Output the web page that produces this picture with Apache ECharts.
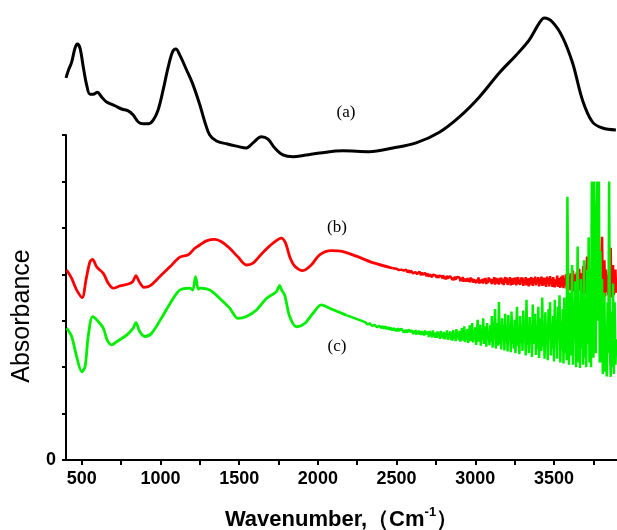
<!DOCTYPE html>
<html>
<head>
<meta charset="utf-8">
<script src="https://cdn.jsdelivr.net/npm/echarts@6/dist/echarts.min.js"></script>
<style>
html,body{margin:0;padding:0;background:#fff;}
#chart{width:617px;height:530px;}
</style>
</head>
<body>
<div id="chart"></div>
<script>
// ---------- data ----------
const xTickValues = [500, 750, 1000, 1250, 1500, 1750, 2000, 2250, 2500, 2750, 3000, 3250, 3500, 3750];
const xLabelValues = [500, 1000, 1500, 2000, 2500, 3000, 3500];
const yLabelValues = [0];

// (a) black spectrum
const blackWn = [400, 415, 436, 457, 472, 489, 510, 531, 552, 573, 599, 626, 658, 711, 753, 795, 827, 859, 890, 922, 954, 985, 1017, 1049, 1077, 1098, 1123, 1166, 1207, 1250, 1282, 1313, 1356, 1419, 1483, 1546, 1588, 1641, 1683, 1726, 1778, 1842, 1927, 2011, 2159, 2328, 2476, 2624, 2772, 2899, 3026, 3153, 3259, 3343, 3406, 3438, 3491, 3554, 3618, 3681, 3744, 3808, 3893];
const blackAbs = [8.23, 8.39, 8.57, 8.87, 8.96, 8.87, 8.46, 8.08, 7.88, 7.88, 7.92, 7.82, 7.71, 7.63, 7.56, 7.52, 7.43, 7.28, 7.24, 7.24, 7.32, 7.54, 7.97, 8.46, 8.79, 8.85, 8.72, 8.40, 8.08, 7.65, 7.28, 7.00, 6.87, 6.81, 6.76, 6.72, 6.83, 6.96, 6.91, 6.72, 6.57, 6.53, 6.57, 6.61, 6.66, 6.64, 6.72, 6.83, 7.06, 7.39, 7.82, 8.34, 8.72, 9.05, 9.41, 9.52, 9.43, 9.11, 8.55, 7.75, 7.28, 7.15, 7.11];

// (b) red spectrum: smooth part
const redWn = [404, 436, 468, 503, 527, 552, 569, 595, 637, 668, 700, 743, 795, 823, 844, 865, 895, 933, 996, 1060, 1123, 1176, 1218, 1250, 1292, 1345, 1388, 1440, 1493, 1546, 1588, 1651, 1715, 1768, 1795, 1821, 1852, 1905, 1958, 2011, 2085, 2159, 2244, 2349, 2476];
const redAbs = [4.09, 3.91, 3.66, 3.50, 3.88, 4.27, 4.32, 4.16, 4.02, 3.81, 3.70, 3.75, 3.79, 3.84, 3.97, 3.84, 3.72, 3.75, 3.95, 4.16, 4.37, 4.42, 4.56, 4.63, 4.72, 4.75, 4.70, 4.56, 4.37, 4.20, 4.24, 4.47, 4.67, 4.78, 4.67, 4.38, 4.18, 4.08, 4.20, 4.42, 4.51, 4.49, 4.39, 4.25, 4.13];
// (b) red spectrum: noisy part, one reading every 5 cm-1 from 2500
const redNoiseStart = 2500, redNoiseStep = 5;
const redNoise = [
  4.12,4.08,4.13,4.09,4.07,4.12,4.10,4.06,4.11,4.08,
  4.09,4.05,4.10,4.06,4.04,4.09,4.07,4.03,4.08,4.05,
  4.07,4.02,4.06,4.01,4.05,4.07,4.00,4.04,4.02,4.06,
  4.03,3.98,4.04,3.99,4.02,3.97,4.03,4.00,3.96,4.02,
  4.01,3.95,4.00,3.96,4.02,3.94,3.99,4.01,3.95,3.98,
  3.99,3.93,3.98,3.92,3.97,3.99,3.93,3.96,3.91,3.98,
  3.96,3.90,3.95,3.89,3.97,3.91,3.94,3.88,3.96,3.92,
  3.94,3.88,3.93,3.87,3.95,3.89,3.86,3.94,3.90,3.92,
  3.93,3.85,3.91,3.86,3.94,3.84,3.90,3.87,3.92,3.85,
  3.92,3.84,3.90,3.83,3.93,3.86,3.91,3.82,3.89,3.85,
  3.92,3.81,3.89,3.83,3.93,3.80,3.88,3.91,3.82,3.90,
  3.80,3.91,3.85,3.92,3.79,3.88,3.81,3.93,3.84,3.90,
  3.93,3.79,3.90,3.82,3.94,3.78,3.87,3.92,3.80,3.89,
  3.78,3.92,3.84,3.93,3.79,3.90,3.77,3.88,3.94,3.81,
  3.93,3.77,3.89,3.81,3.94,3.76,3.91,3.83,3.78,3.92,
  3.80,3.93,3.76,3.89,3.94,3.79,3.87,3.77,3.93,3.84,
  3.93,3.75,3.88,3.79,3.94,3.76,3.91,3.82,3.74,3.92,
  3.78,3.94,3.85,3.75,3.92,3.80,3.95,3.76,3.89,3.83,
  3.94,3.74,3.90,3.79,3.95,3.75,3.88,3.93,3.76,3.91,
  3.73,3.95,3.82,3.92,3.74,3.96,3.80,3.90,3.73,3.94,
  3.96,3.72,3.89,3.77,3.97,3.73,3.92,3.80,3.71,3.95,
  3.74,3.98,3.70,3.92,3.78,4.00,3.69,4.15,3.72,3.96,
  3.66,4.02,3.75,3.62,4.08,3.80,3.64,4.00,3.70,4.05,
  3.62,3.95,4.12,3.65,3.85,4.02,3.60,4.18,3.70,3.98,
  3.58,4.05,4.38,3.55,3.95,4.10,3.60,3.52,4.02,3.75,
  4.20,3.55,3.90,4.12,3.50,3.70,4.15,3.60,4.05,3.52,
  4.25,4.81,3.55,3.95,4.30,3.52,4.10,3.62,3.98,3.55,
  4.05,3.60,4.57,3.50,3.95,4.20,3.55,3.85,4.10,3.60
];

// (c) green spectrum: smooth part
const greenWn = [404, 436, 468, 500, 521, 541, 569, 595, 637, 662, 690, 722, 785, 827, 844, 869, 901, 944, 1017, 1081, 1123, 1187, 1205, 1223, 1240, 1250, 1313, 1377, 1440, 1493, 1546, 1610, 1673, 1735, 1757, 1770, 1789, 1821, 1863, 1916, 1969, 2022, 2074, 2180];
const greenAbs = [2.84, 2.66, 2.22, 1.90, 2.01, 2.66, 3.09, 3.02, 2.84, 2.58, 2.48, 2.55, 2.69, 2.84, 2.96, 2.76, 2.66, 2.73, 3.12, 3.48, 3.66, 3.70, 3.66, 3.95, 3.68, 3.70, 3.66, 3.48, 3.27, 3.05, 3.09, 3.23, 3.48, 3.62, 3.76, 3.66, 3.55, 3.09, 2.87, 2.94, 3.16, 3.34, 3.27, 3.12];
// (c) green spectrum: noisy part, one reading every 5 cm-1 from 2300
const greenNoiseStart = 2300, greenNoiseStep = 5;
const greenNoise = [
  2.97,2.93,2.96,2.92,2.95,2.91,2.94,2.90,2.93,2.89,
  2.92,2.88,2.91,2.87,2.92,2.86,2.90,2.87,2.89,2.85,
  2.88,2.84,2.89,2.83,2.87,2.84,2.88,2.82,2.86,2.83,
  2.86,2.80,2.85,2.81,2.86,2.79,2.84,2.80,2.85,2.78,
  2.83,2.77,2.84,2.78,2.82,2.76,2.83,2.79,2.81,2.75,
  2.80,2.74,2.81,2.75,2.79,2.73,2.81,2.76,2.78,2.72,
  2.79,2.71,2.78,2.73,2.80,2.70,2.77,2.72,2.79,2.70,
  2.77,2.69,2.78,2.70,2.76,2.68,2.79,2.71,2.75,2.67,
  2.76,2.65,2.78,2.68,2.74,2.64,2.79,2.67,2.75,2.63,
  2.74,2.63,2.77,2.66,2.72,2.61,2.78,2.65,2.73,2.62,
  2.76,2.60,2.73,2.64,2.79,2.59,2.71,2.65,2.77,2.58,
  2.75,2.57,2.80,2.62,2.70,2.56,2.82,2.63,2.74,2.58,
  2.78,2.55,2.71,2.84,2.57,2.69,2.88,2.54,2.76,2.60,
  2.82,2.52,2.74,2.90,2.56,2.68,2.95,2.53,2.79,2.58,
  2.86,2.48,2.75,3.02,2.55,2.70,2.92,2.46,2.80,2.58,
  3.05,2.50,2.72,2.88,2.44,2.95,2.60,2.78,2.47,2.90,
  2.55,3.10,2.42,2.85,2.68,3.25,2.40,2.75,2.95,2.46,
  3.40,2.50,2.82,2.38,3.05,2.62,2.90,2.36,3.15,2.55,
  2.80,2.34,3.12,2.58,2.92,2.32,3.20,2.50,2.75,2.40,
  3.02,2.30,2.85,3.30,2.45,2.70,2.28,3.10,2.52,2.88,
  2.35,3.22,2.60,2.95,2.25,3.45,2.48,2.80,2.30,3.08,
  2.55,2.90,2.22,3.35,2.50,2.75,3.15,2.26,2.85,2.40,
  3.30,2.20,2.70,3.05,2.35,3.50,2.45,2.92,2.18,3.18,
  2.50,2.85,2.15,3.25,2.62,3.40,2.25,2.95,2.40,3.10,
  2.12,3.45,2.55,2.90,2.18,3.30,2.68,3.55,2.10,2.95,
  2.40,3.25,2.08,3.50,2.30,3.10,2.15,5.67,3.35,2.05,
  3.60,2.25,2.90,4.20,2.05,3.30,2.60,3.85,2.00,3.10,
  4.60,2.10,3.40,1.98,3.90,2.40,3.60,2.05,4.30,2.20,
  3.50,2.00,4.10,2.50,4.80,2.10,3.70,2.00,6.00,4.80,
  2.20,6.00,4.50,2.30,4.80,6.00,3.00,6.00,2.10,4.50,
  2.10,3.90,1.85,3.00,3.60,1.90,2.80,1.80,3.40,2.30,
  6.00,2.40,1.79,3.20,2.00,3.80,1.85,3.40,2.05,2.60
];

// ---------- build series data ----------
function pairs(xs, ys) { return xs.map((x, i) => [x, ys[i]]); }
function steps(start, step, ys) { return ys.map((y, i) => [start + i * step, y]); }

const blackData = pairs(blackWn, blackAbs);
const redSmooth = pairs(redWn, redAbs);
const redNoisy = [redSmooth[redSmooth.length - 1]].concat(steps(redNoiseStart, redNoiseStep, redNoise));
const greenSmooth = pairs(greenWn, greenAbs);
const greenNoisy = [greenSmooth[greenSmooth.length - 1]].concat(steps(greenNoiseStart, greenNoiseStep, greenNoise));

const chart = echarts.init(document.getElementById('chart'), null, {renderer: 'canvas'});
const sans = '"Liberation Sans", Arial, sans-serif';
const serif = '"Liberation Serif", "Times New Roman", serif';

const option = {
  animation: false,
  backgroundColor: '#fff',
  grid: {left: 66, right: 0, top: 135, bottom: 70, outerBoundsMode: 'none', containLabel: false},
  xAxis: {
    type: 'value', min: 400, max: 3900,
    axisLine: {show: true, lineStyle: {color: '#000', width: 2}},
    axisTick: {show: true, customValues: xTickValues, length: 5, lineStyle: {color: '#000', width: 2}},
    axisLabel: {customValues: xLabelValues, formatter: v => String(v), color: '#000', fontFamily: sans, fontWeight: 'bold', fontSize: 18, margin: 10},
    splitLine: {show: false},
    name: '{t|Wavenumber,（Cm}{s|-1}{t|）}',
    nameLocation: 'middle',
    nameGap: 46,
    nameTextStyle: {
      rich: {
        t: {fontFamily: sans, fontWeight: 'bold', fontSize: 22, color: '#000', verticalAlign: 'bottom'},
        s: {fontFamily: sans, fontWeight: 'bold', fontSize: 13, color: '#000', verticalAlign: 'top', padding: [0, 0, 12, 0]}
      }
    }
  },
  yAxis: {
    type: 'value', min: 0, max: 7, interval: 1,
    axisLine: {show: true, lineStyle: {color: '#000', width: 2}},
    axisTick: {show: true, length: 4, lineStyle: {color: '#000', width: 2}},
    axisLabel: {customValues: yLabelValues, formatter: v => String(v), color: '#000', fontFamily: sans, fontWeight: 'bold', fontSize: 18, margin: 10},
    splitLine: {show: false}
  },
  series: [
    {type: 'line', data: blackData, showSymbol: false, smooth: 0.35, clip: false,
     lineStyle: {color: '#000', width: 3}, z: 3},
    {type: 'line', data: redSmooth, showSymbol: false, smooth: 0.3, clip: false,
     lineStyle: {color: '#ff0000', width: 2.8}, z: 2},
    {type: 'line', data: redNoisy, showSymbol: false, smooth: false, clip: false,
     lineStyle: {color: '#ff0000', width: 2.5}, z: 2},
    {type: 'line', data: greenSmooth, showSymbol: false, smooth: 0.3, clip: false,
     lineStyle: {color: '#00ee00', width: 2.8}, z: 4},
    {type: 'line', data: greenNoisy, showSymbol: false, smooth: false, clip: false,
     lineStyle: {color: '#00ee00', width: 2.5}, z: 4}
  ],
  graphic: [
    {type: 'text', x: 22, y: 316, rotation: Math.PI / 2,
     style: {text: 'Absorbance', fontFamily: sans, fontSize: 25, fill: '#000', align: 'center', verticalAlign: 'middle'}},
    {type: 'text', x: 346, y: 113, style: {text: '(a)', fontFamily: serif, fontSize: 17, fill: '#000', align: 'center', verticalAlign: 'middle'}},
    {type: 'text', x: 337, y: 228, style: {text: '(b)', fontFamily: serif, fontSize: 17, fill: '#000', align: 'center', verticalAlign: 'middle'}},
    {type: 'text', x: 337, y: 347, style: {text: '(c)', fontFamily: serif, fontSize: 17, fill: '#000', align: 'center', verticalAlign: 'middle'}}
  ]
};
chart.setOption(option);
</script>
</body>
</html>
